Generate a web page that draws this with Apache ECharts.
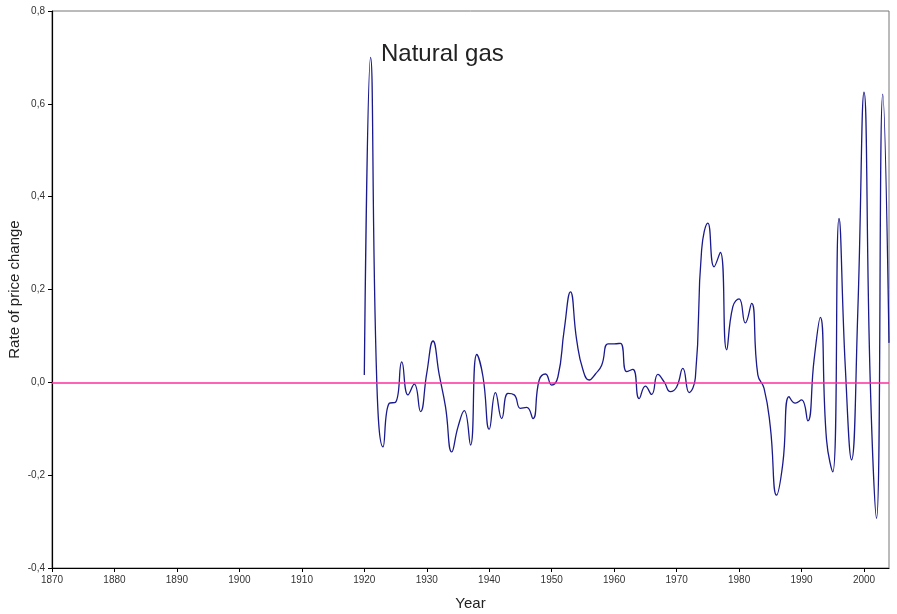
<!DOCTYPE html>
<html>
<head>
<meta charset="utf-8">
<script src="https://cdn.jsdelivr.net/npm/echarts@6/dist/echarts.min.js"></script>
<style>html,body{margin:0;padding:0;background:#fff;}#c{width:897px;height:614px;}</style>
</head>
<body>
<div id="c"></div>
<script>
const years = [];
for (let y = 1920; y <= 2004; y++) years.push(y);
const values = [
  0.016, 0.70, 0.00, -0.139, -0.045, -0.043, 0.044, -0.027, -0.004, -0.063,
  0.02, 0.089, 0.016, -0.053, -0.15, -0.096, -0.061, -0.135, 0.06, 0.012,
  -0.101, -0.022, -0.078, -0.024, -0.027, -0.056, -0.054, -0.078, 0.005, 0.018,
  -0.006, 0.012, 0.113, 0.195, 0.091, 0.027, 0.005, 0.018, 0.037, 0.083,
  0.083, 0.084, 0.023, 0.028, -0.035, -0.008, -0.026, 0.017, 0.001, -0.02,
  -0.01, 0.03, -0.022, 0.01, 0.285, 0.343, 0.249, 0.28, 0.07, 0.163,
  0.18, 0.128, 0.17, 0.016, -0.013, -0.096, -0.243, -0.175, -0.031, -0.045,
  -0.038, -0.083, 0.048, 0.14, -0.124, -0.193, 0.353, 0.034, -0.167, 0.15,
  0.625, 0.0, -0.293, 0.621, 0.085
];
const xTicks = [1870, 1880, 1890, 1900, 1910, 1920, 1930, 1940, 1950, 1960, 1970, 1980, 1990, 2000];
const yTicks = [-0.4, -0.2, 0, 0.2, 0.4, 0.6, 0.8];
const titleText = 'Natural gas';

const chart = echarts.init(document.getElementById('c'));
chart.setOption({
  animation: false,
  backgroundColor: '#fff',
  textStyle: { fontFamily: 'Liberation Sans, Arial, sans-serif' },
  title: {
    text: titleText, left: 381, top: 42, padding: 0,
    textStyle: { fontSize: 24, fontWeight: 'normal', color: '#222', fontFamily: 'Liberation Sans, Arial, sans-serif' }
  },
  grid: { left: 52, right: 8, top: 11, bottom: 46, containLabel: false, outerBoundsMode: 'none', show: true, borderColor: '#777', borderWidth: 1 },
  xAxis: {
    type: 'value', min: 1870, max: 2004, interval: 10,
    name: 'Year', nameLocation: 'middle', nameGap: 28, nameMoveOverlap: false,
    nameTextStyle: { fontSize: 15, color: '#222' },
    axisLine: { onZero: false, lineStyle: { color: '#000', width: 1.2 } },
    axisTick: { show: true, length: 4, lineStyle: { color: '#000' }, customValues: xTicks },
    axisLabel: { fontSize: 10, color: '#333', margin: 7, customValues: xTicks, formatter: v => String(v) },
    splitLine: { show: false }
  },
  yAxis: {
    type: 'value', min: -0.4, max: 0.8, interval: 0.2,
    name: 'Rate of price change', nameLocation: 'middle', nameGap: 30, nameMoveOverlap: false,
    nameTextStyle: { fontSize: 15, color: '#222' },
    axisLine: { show: true, onZero: false, lineStyle: { color: '#000', width: 1.2 } },
    axisTick: { show: true, length: 4, lineStyle: { color: '#000' }, customValues: yTicks },
    axisLabel: { fontSize: 10, color: '#333', margin: 7, customValues: yTicks, formatter: v => v.toFixed(1).replace('.', ',') },
    splitLine: { show: false }
  },
  series: [{
    type: 'line',
    data: years.map((y, i) => [y, values[i]]),
    smooth: 0.5,
    symbol: 'none',
    clip: true,
    lineStyle: { color: '#1a1a8c', width: 1.3 },
    markLine: {
      silent: true, symbol: 'none', label: { show: false },
      lineStyle: { color: '#ff2fa0', width: 1.5, type: 'solid' },
      data: [{ yAxis: 0 }]
    }
  }]
});
</script>
</body>
</html>
